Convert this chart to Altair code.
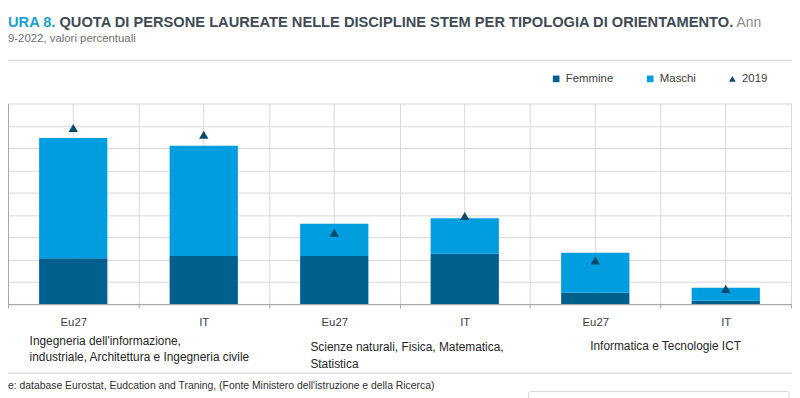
import altair as alt
import pandas as pd

# ---------------- data ----------------
chiavi = ["ING_Eu27", "ING_IT", "SCI_Eu27", "SCI_IT", "ICT_Eu27", "ICT_IT"]
femmine = [4.1, 4.3, 4.3, 4.5, 1.0, 0.3]
maschi = [10.8, 9.9, 2.9, 3.2, 3.6, 1.15]
anno_2019 = [15.8, 15.2, 6.4, 7.9, 3.9, 1.35]
serie = ["Femmine", "Maschi", "2019"]
colori = ["#00618e", "#009ddf", "#0c4a6d"]
forme = ["square", "square", "triangle-up"]
y_ticks = [0, 2, 4, 6, 8, 10, 12, 14, 16, 18]

gruppi_chiave = ["ING_IT", "SCI_IT", "ICT_IT"]
gruppi_testo = [
    "Ingegneria dell'informazione,\nindustriale, Architettura e Ingegneria civile",
    "Scienze naturali, Fisica, Matematica,\nStatistica",
    "Informatica e Tecnologie ICT",
]
titolo_a = "URA 8."
titolo_b = "QUOTA DI PERSONE LAUREATE NELLE DISCIPLINE STEM PER TIPOLOGIA DI ORIENTAMENTO."
titolo_c = "Ann"
sottotitolo = "9-2022, valori percentuali"
fonte = "e: database Eurostat, Eudcation and Traning, (Fonte Ministero dell'istruzione e della Ricerca)"

FONT = "Liberation Sans, Arial, sans-serif"

# ---------------- tables ----------------
rows = []
for k, f, m in zip(chiavi, femmine, maschi):
    rows.append({"chiave": k, "serie": "Femmine", "valore": f, "ordine": 0})
    rows.append({"chiave": k, "serie": "Maschi", "valore": m, "ordine": 1})
df_bar = pd.DataFrame(rows)
df_2019 = pd.DataFrame({"chiave": chiavi, "serie": "2019", "valore": anno_2019})
df_cat = pd.DataFrame({"chiave": chiavi})

legenda = alt.Legend(
    title=None, orient="none", legendX=548, legendY=-31, direction="horizontal",
    labelFont=FONT, labelFontSize=11.5, labelColor="#404040", symbolSize=45,
    columnPadding=31, labelOffset=4, symbolOpacity=1, symbolStrokeWidth=0,
)

x_enc = alt.X(
    "chiave:N", sort=chiavi,
    scale=alt.Scale(domain=chiavi, paddingInner=0, paddingOuter=0),
    axis=alt.Axis(title=None, labelExpr="split(datum.label, '_')[1]",
                  tickBand="extent", grid=True, labelAngle=0, labelAlign="center",
                  labelBaseline="top", labelPadding=9, tickSize=4),
)
y_scale = alt.Scale(domain=[0, 18], nice=False, zero=True)
y_axis = alt.Axis(values=y_ticks, labels=False, title=None, grid=True, tickSize=4)
color_enc = alt.Color("serie:N", scale=alt.Scale(domain=serie, range=colori), legend=legenda)

centri = alt.Chart(df_cat).mark_rule(color="#d9d9d9", strokeWidth=1).encode(
    x=alt.X("chiave:N", sort=chiavi)
)

barre = alt.Chart(df_bar).mark_bar(width=alt.RelativeBandSize(0.523)).encode(
    x=x_enc,
    y=alt.Y("valore:Q", stack="zero", scale=y_scale, axis=y_axis),
    color=color_enc,
    order=alt.Order("ordine:Q"),
)

triangoli = alt.Chart(df_2019).mark_point(filled=True, size=90, opacity=1).encode(
    x=alt.X("chiave:N", sort=chiavi),
    y=alt.Y("valore:Q", scale=y_scale, axis=y_axis),
    color=color_enc,
    shape=alt.Shape("serie:N", scale=alt.Scale(domain=serie, range=forme), legend=legenda),
)

# group labels under the axis
gruppi_dx = [-110, -90, -71]
gruppi_y = [234.5, 241.5, 239.5]
etichette = []
for k, t, dx, yy in zip(gruppi_chiave, gruppi_testo, gruppi_dx, gruppi_y):
    etichette.append(
        alt.Chart(pd.DataFrame({"chiave": [k], "testo": [t]})).mark_text(
            align="left", baseline="top", dx=dx, lineBreak="\n", lineHeight=16.5,
            font=FONT, fontSize=12, color="#262626",
        ).encode(
            x=alt.X("chiave:N", sort=chiavi, bandPosition=0),
            y=alt.value(yy),
            text="testo:N",
        )
    )


def testo(t, x, y, **kw):
    return alt.Chart(pd.DataFrame({"t": [t]})).mark_text(**kw).encode(
        text="t:N", x=alt.value(x), y=alt.value(y)
    )


tit_a = testo(titolo_a, 0, -77.5, align="left", baseline="alphabetic",
              font=FONT, fontSize=14.8, fontWeight="bold", color="#1ba1cb")
tit_b = testo(titolo_b, 52, -77.5, align="left", baseline="alphabetic",
              font=FONT, fontSize=14.8, fontWeight="bold", color="#404b55")
tit_c = testo(titolo_c, 736, -77.5, align="left", baseline="alphabetic",
              font=FONT, fontSize=14, color="#8a8a8a")
sottot = testo(sottotitolo, 0, -62.5, align="left", baseline="alphabetic",
               font=FONT, fontSize=11.5, color="#707070")
fonte_t = testo(fonte, 0, 285.5, align="left", baseline="middle",
                font=FONT, fontSize=10.5, color="#303030")

sep1 = alt.Chart(df_cat.head(1)).mark_rule(color="#dedede", strokeWidth=1.5).encode(
    x=alt.value(-8), x2=alt.value(792), y=alt.value(-43.5)
)
sep2 = alt.Chart(df_cat.head(1)).mark_rule(color="#dedede", strokeWidth=1.5).encode(
    x=alt.value(-8), x2=alt.value(792), y=alt.value(272.5)
)
riquadro = alt.Chart(df_cat.head(1)).mark_rect(
    fill="#ffffff", stroke="#d4d4d4", strokeWidth=1, cornerRadius=2
).encode(x=alt.value(526), x2=alt.value(789), y=alt.value(291), y2=alt.value(310))

chart = alt.layer(
    centri, barre, triangoli, *etichette, tit_a, tit_b, tit_c, sottot, fonte_t,
    sep1, sep2, riquadro,
).properties(
    width=791, height=202.5,
    padding={"left": 0, "top": 94.5, "right": 1, "bottom": 93},
    autosize=alt.AutoSizeParams(type="none"),
).configure_view(stroke=None).configure_axis(
    gridColor="#d9d9d9", gridWidth=1, domainColor="#a6a6a6", tickColor="#a6a6a6",
    labelFont=FONT, labelFontSize=11.5, labelColor="#404040",
)

chart.save("out.html", embed_options={"renderer": "svg", "actions": False})
